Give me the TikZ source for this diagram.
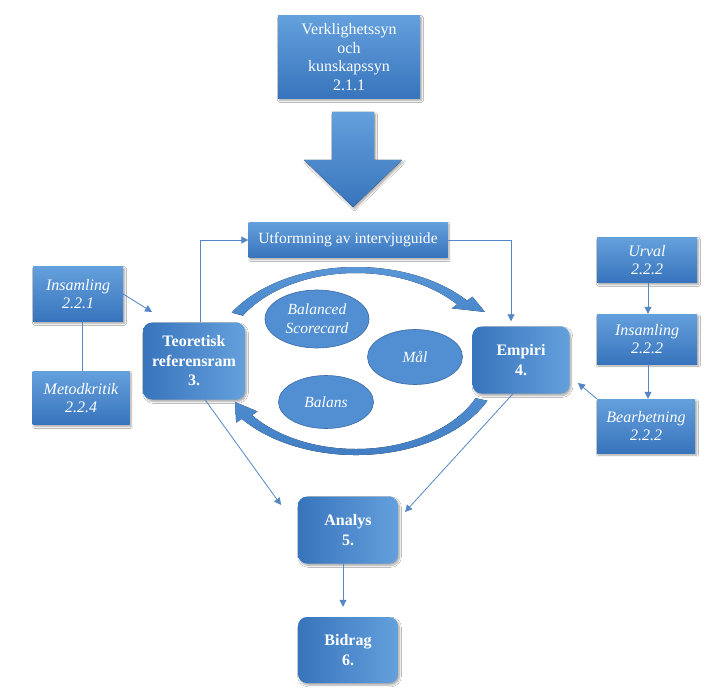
\documentclass[tikz,border=0pt]{standalone}
\usepackage{fontspec}
\setmainfont{Liberation Serif}
\usetikzlibrary{arrows.meta,shadows.blur,calc,shapes.geometric}
\definecolor{bA}{RGB}{100,160,220}
\definecolor{bB}{RGB}{56,116,188}
\definecolor{elf}{RGB}{82,143,210}
\definecolor{eld}{RGB}{60,105,165}
\definecolor{ln}{RGB}{84,135,196}
\definecolor{arcA}{RGB}{62,122,192}
\definecolor{arcB}{RGB}{88,150,215}
\begin{document}
\begin{tikzpicture}[x=1pt,y=-1pt,
  shad/.style={blur shadow={shadow xshift=1.5pt,shadow yshift=-2pt,shadow blur steps=6,shadow opacity=35}},
  box/.style={draw=none,top color=bA,bottom color=bB,text=white,align=center,inner sep=0pt,
    font=\fontsize{16}{18.5}\selectfont,shad},
  ibox/.style={box,font=\fontsize{16}{18.5}\selectfont\itshape},
  rbox/.style={draw=none,rounded corners=9pt,left color=bB,right color=bA,text=white,align=center,inner sep=0pt,
    font=\fontsize{16}{19.5}\selectfont\bfseries,shad},
  ell/.style={ellipse,draw=eld,line width=0.6pt,fill=elf,text=white,align=center,inner sep=0pt,
    font=\fontsize{15.5}{19}\selectfont\itshape},
  conn/.style={draw=ln,line width=0.8pt},
  arr/.style={conn,-{Triangle[width=7pt,length=7pt]}},
  ring/.style={draw=none,top color=arcB,bottom color=arcA}
]
\useasboundingbox[fill=white] (0,0) rectangle (718,698);

% top box and big arrow
\node[box,minimum width=142pt,minimum height=83pt] (top) at (349,57) {Verklighetssyn\\och\\kunskapssyn\\2.1.1};
\fill[top color=bA,bottom color=bB,shad] (332,112) -- (374,112) -- (374,160) -- (402,160) -- (353,207) -- (304,160) -- (332,160) -- cycle;

% Utformning
\node[box,minimum width=199pt,minimum height=35pt,font=\fontsize{15.6}{18}\selectfont] (utf) at (348,240) {Utformning av intervjuguide};

% main boxes
\node[rbox,minimum width=102pt,minimum height=77pt] (teo) at (194,361) {Teoretisk\\referensram\\3.};
\node[rbox,minimum width=97pt,minimum height=67pt] (emp) at (521,360) {Empiri\\4.};
\node[rbox,minimum width=100pt,minimum height=67pt] (ana) at (348,530) {Analys\\5.};
\node[rbox,minimum width=100pt,minimum height=66pt] (bid) at (348,650) {Bidrag\\6.};

% side boxes
\node[ibox,minimum width=90pt,minimum height=55pt] (ins1) at (78,294) {Insamling\\2.2.1};
\node[ibox,minimum width=97pt,minimum height=53pt] (met) at (81,398) {Metodkritik\\2.2.4};
\node[ibox,minimum width=100pt,minimum height=45pt] (urv) at (647,260) {Urval\\2.2.2};
\node[ibox,minimum width=100pt,minimum height=50pt] (ins2) at (647,339) {Insamling\\2.2.2};
\node[ibox,minimum width=98pt,minimum height=54pt] (bea) at (646,426) {Bearbetning\\2.2.2};

% circular arrows (ring segments)
\coordinate (cc) at (356,361);
\fill[ring] (cc) ++(-149:145 and 94) arc[start angle=-149,end angle=-40,x radius=145,y radius=94]
  -- ($(cc)+(-40:152 and 100)$) -- (485,312) -- ($(cc)+(-40:125 and 82)$)
  -- ($(cc)+(-40:132 and 88)$) arc[start angle=-40,end angle=-149,x radius=132,y radius=88] -- cycle;
\fill[ring] (cc) ++(25:145 and 94) arc[start angle=25,end angle=142,x radius=145,y radius=94]
  -- ($(cc)+(142:152 and 100)$) -- (235,402) -- ($(cc)+(142:125 and 82)$)
  -- ($(cc)+(142:132 and 88)$) arc[start angle=142,end angle=25,x radius=132,y radius=88] -- cycle;

% ellipses
\node[ell,minimum width=104pt,minimum height=58pt] (bsc) at (317,319) {Balanced\\Scorecard};
\node[ell,minimum width=95pt,minimum height=55pt] (mal) at (415,357) {Mål};
\node[ell,minimum width=95pt,minimum height=53pt] (bal) at (326,402) {Balans};

% connectors
\coordinate (insend) at (152,312);
\coordinate (beaend) at (578,383);
\coordinate (teoend) at (281,505);
\coordinate (empend) at (405,512);
\draw[arr] ([xshift=6pt]teo.north) |- (utf.west);
\draw[arr] (utf.east) -| ([xshift=-10pt,yshift=5pt]emp.north);
\draw[arr] (ins1.east) -- (insend);
\draw[conn] ([xshift=4pt]ins1.south) -- ([xshift=1pt]met.north);
\draw[arr] ([xshift=1pt]urv.south) -- ([xshift=1pt]ins2.north);
\draw[arr] ([xshift=1pt]ins2.south) -- ([xshift=2pt]bea.north);
\draw[arr] (bea.north west) -- (beaend);
\draw[arr] ([xshift=11pt]teo.south) -- (teoend);
\draw[arr] ([xshift=-8pt]emp.south) -- (empend);
\draw[arr] ([xshift=-5pt]ana.south) -- ([xshift=-5pt,yshift=10pt]bid.north);
\end{tikzpicture}
\end{document}
